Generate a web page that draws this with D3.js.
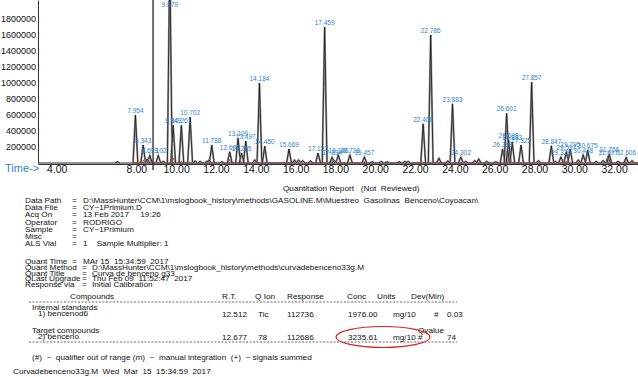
<!DOCTYPE html>
<html>
<head>
<meta charset="utf-8">
<script src="https://cdn.jsdelivr.net/npm/d3@7"></script>
<style>
  body { margin: 0; background: #fff; }
  text { font-family: "Liberation Sans", Arial, Helvetica, sans-serif; white-space: pre; }
</style>
</head>
<body>
<svg width="638" height="377"></svg>
<script>
// labelled peaks: retention time (min) and abundance
const peakTimes = [7.954, 8.343, 8.679, 9.102, 9.679, 9.849, 10.261, 10.702, 11.788, 12.691,
  13.109, 13.285, 13.497, 14.184, 14.45, 15.669, 17.127, 17.459, 17.834, 18.146, 18.728,
  19.457, 22.408, 22.786, 23.883, 24.302, 26.399, 26.601, 26.698, 26.883, 27.325, 27.857,
  28.847, 29.329, 29.597, 29.795, 30.448, 30.675, 31.697, 31.756, 32.606];
const peakHeights = [600000, 225000, 95000, 95000, 2600000, 470000, 470000, 575000, 225000, 140000,
  310000, 125000, 275000, 1000000, 210000, 175000, 125000, 1700000, 70000, 100000, 100000,
  75000, 490000, 1600000, 740000, 75000, 175000, 620000, 290000, 260000, 225000, 1010000,
  215000, 75000, 140000, 175000, 100000, 160000, 80000, 110000, 70000];

// small unlabelled peaks
const minorTimes = [7.05, 8.55, 9.35, 10.95, 11.2, 11.55, 11.65, 12.3, 13.95, 15.95, 16.15, 16.35,
  16.75, 17.95, 19.85, 20.3, 20.6, 21.2, 21.5, 21.65, 23.2, 23.65, 24.55, 25.0, 25.2, 25.6,
  26.05, 28.2, 29.05, 30.2, 31.1, 31.45, 32.2, 32.9];
const minorHeights = [15000, 50000, 20000, 25000, 20000, 25000, 40000, 15000, 40000, 35000, 40000, 30000,
  25000, 30000, 15000, 20000, 15000, 15000, 20000, 20000, 60000, 25000, 20000, 30000, 50000, 20000,
  15000, 30000, 20000, 40000, 20000, 30000, 20000, 30000];

// qualifier ion trace (red)
const ionTimes = [8.38, 8.75, 9.87, 10.26, 11.6, 12.69, 15.92, 17.86, 19.4, 26.69, 29.6, 31.72, 32.62];
const ionHeights = [40000, 45000, 60000, 20000, 20000, 45000, 45000, 35000, 30000, 290000, 20000, 70000, 50000];
const ionFilled = [26.69, 31.72, 32.62];

const cursorTime = 8.84;
const xTicks = [4, 8, 10, 12, 14, 16, 18, 20, 22, 24, 26, 28, 30, 32];
const yTicks = [200000, 400000, 600000, 800000, 1000000, 1200000, 1400000, 1600000, 1800000];

// report text
const dataLabels = ["Data Path", "Data File", "Acq On", "Operator", "Sample", "Misc", "ALS Vial"];
const dataValues = [
  "D:\\MassHunter\\CCM\\1\\mslogbook_history\\methods\\GASOLINE.M\\Muestreo  Gasolinas  Benceno\\Coyoacan\\",
  "CY\u22121Primium.D", "13 Feb 2017     19:26", "RODRIGO", "CY\u22121Primium", "",
  "1    Sample Multiplier: 1"];
const quantLabels = ["Quant Time", "Quant Method", "Quant Title", "QLast Upgrade", "Response via"];
const quantValues = ["MAr 15  15:34:59  2017",
  "D:\\MassHunter\\CCM\\1\\mslogbook_history\\methods\\curvadebenceno33g.M",
  "Curva de benceno g33", "Thu Feb 09  11:52:47  2017", "Initial Calibration"];
const tableHeader = ["Compounds", "R.T.", "Q Ion", "Response", "Conc", "Units", "Dev(Min)"];
const istdRow = ["12.512", "Tic", "112736", "1976.00", "mg/10", "#", "0.03"];
const targetRow = ["12.677", "78", "112686", "3235.61", "mg/10 #", "", "74"];

const svg = d3.select("svg");
const blue = "#2f82d2";

const x = d3.scaleLinear().domain([3.06, 33.2]).range([38, 638]);
const y = d3.scaleLinear().domain([0, 2037500]).range([163, 0]);

const line = d3.line().x((d) => x(d[0])).y((d) => y(d[1]));
const tri = (t, h, hw) => [[t - hw, 0], [t, h], [t + hw, 0]];

const chart = svg.append("g");

//y axis
chart.append("g")
  .attr("transform", `translate(${x(3.06)},0)`)
  .call(d3.axisLeft(y).tickValues(yTicks).tickSize(0).tickPadding(2).tickFormat(d3.format("d")))
  .call((g) => g.select(".domain").attr("stroke", "#333"))
  .call((g) => g.selectAll("text").attr("font-size", 9).attr("fill", "#111")
    .attr("font-family", "Liberation Sans, Arial, sans-serif"));

//x axis
chart.append("g")
  .attr("transform", `translate(0,${y(0) + 1})`)
  .call(d3.axisBottom(x).tickValues(xTicks).tickSize(0).tickPadding(2).tickFormat(d3.format(".2f")))
  .call((g) => g.select(".domain").attr("stroke", "#333"))
  .call((g) => g.selectAll("text").attr("font-size", 10.5).attr("fill", "#111")
    .attr("font-family", "Liberation Sans, Arial, sans-serif"));

chart.append("text")
  .attr("x", 5).attr("y", 172)
  .attr("font-size", 11).attr("fill", blue)
  .text("Time->");

// red ion trace
const ion = chart.append("g");
ion.append("path")
  .attr("d", line([[7.8, 0], [33.2, 0]]))
  .attr("stroke", "#e03030").attr("stroke-width", 1).attr("fill", "none");
ionTimes.forEach((t, i) => {
  ion.append("path")
    .attr("d", line(tri(t, ionHeights[i], 0.1)))
    .attr("stroke", "#e03030").attr("stroke-width", 1)
    .attr("fill", ionFilled.includes(t) ? "#f4a0a0" : "none");
});

// black TIC trace
const tic = chart.append("g");
tic.append("path")
  .attr("d", line([[3.06, 0], [33.2, 0]]))
  .attr("stroke", "#222").attr("stroke-width", 1).attr("fill", "none");

const allPeaks = peakTimes.map((t, i) => [t, peakHeights[i]])
  .concat(minorTimes.map((t, i) => [t, minorHeights[i]]));

allPeaks.forEach(([t, h]) => {
  tic.append("path").attr("d", line(tri(t, h, 0.12)))
    .attr("stroke", "#999").attr("stroke-width", 2).attr("fill", "none");
  tic.append("path").attr("d", line(tri(t, h, 0.12)))
    .attr("stroke", "#111").attr("stroke-width", 0.8).attr("fill", "none");
});

// cursor line
chart.append("line")
  .attr("x1", x(cursorTime)).attr("x2", x(cursorTime))
  .attr("y1", 0).attr("y2", 170)
  .attr("stroke", "#333").attr("stroke-width", 1.4);

// peak labels
chart.selectAll(".plabel")
  .data(peakTimes)
  .enter()
  .append("text")
  .attr("class", "plabel")
  .attr("x", (d) => x(d))
  .attr("y", (d, i) => Math.max(y(peakHeights[i]) - 2, 7))
  .attr("text-anchor", "middle")
  .attr("font-size", 6.5)
  .attr("fill", blue)
  .text((d) => d3.format(".3f")(d));

// report (text slightly squashed vertically, like the printout)
const rep = svg.append("g").attr("font-size", 8.2).attr("fill", "#111");
const put = (px, py, str) =>
  rep.append("text").attr("transform", `translate(${px},${py}) scale(1,0.85)`).text(str);

put(283, 191, "Quantitation Report   (Not  Reviewed)");

dataLabels.forEach((lab, i) => {
  const yy = 203 + i * 7.2;
  put(25, yy, lab);
  put(72, yy, "=");
  put(83, yy, dataValues[i]);
});

quantLabels.forEach((lab, i) => {
  const yy = 264 + i * 5.8;
  put(25, yy, lab);
  put(i === 0 ? 72 : 82, yy, "=");
  put(i === 0 ? 83 : 92, yy, quantValues[i]);
});

const colX = [70, 222, 255, 287, 347, 377, 411];
tableHeader.forEach((h, i) => put(colX[i], 299, h));

const dashY = [302, 342];
dashY.forEach((d) => {
  rep.append("line").attr("x1", 29).attr("x2", 457).attr("y1", d).attr("y2", d)
    .attr("stroke", "#444").attr("stroke-width", 0.8).attr("stroke-dasharray", "2,1.5");
});

const rowX = [222, 258, 287, 348, 393, 434, 447];
put(32, 310, "Internal standards");
put(38, 316, "1) bencenod6");
istdRow.forEach((v, i) => put(rowX[i], 317, v));

put(32, 333, "Target compounds");
put(38, 339, "2) benceno");
targetRow.forEach((v, i) => put(rowX[i], 340, v));
put(418, 333, "Qvalue");

rep.append("ellipse")
  .attr("cx", 383).attr("cy", 337).attr("rx", 47).attr("ry", 10.5)
  .attr("fill", "none").attr("stroke", "#e02020").attr("stroke-width", 1.2);

put(32, 360, "(#)  \u2212  qualifier out of range (m)  \u2212  manual integration  (+)  \u2212 signals summed");
put(13, 374, "Curvadebenceno33g.M  Wed  Mar  15  15:34:59  2017");
</script>
</body>
</html>
